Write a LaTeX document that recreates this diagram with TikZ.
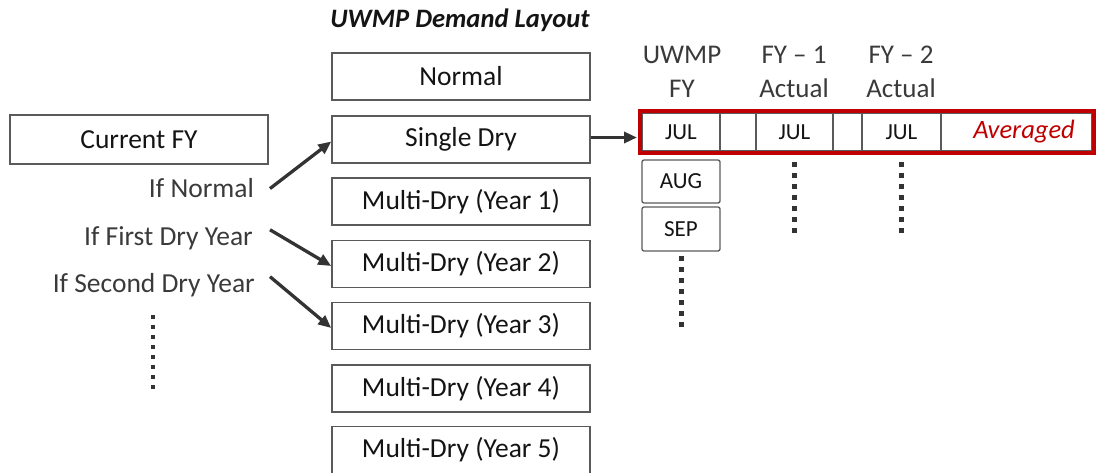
\documentclass[tikz,border=0pt]{standalone}
\usepackage{fontspec}
\setmainfont{Carlito}
\usetikzlibrary{arrows.meta,calc}
\definecolor{boxline}{HTML}{5A5A5A}
\definecolor{boxtext}{HTML}{141414}
\definecolor{labtext}{HTML}{3A3A3A}
\definecolor{arrcol}{HTML}{333333}
\definecolor{redc}{HTML}{C00000}
\tikzset{
  bigbox/.style={draw=boxline, line width=1.5pt, minimum width=258pt, minimum height=47pt, inner sep=0pt,
    font=\fontsize{27.5}{32}\selectfont, text=boxtext},
  cell/.style={draw=boxline, line width=1.3pt, minimum height=38pt, inner sep=0pt,
    font=\fontsize{23}{27}\selectfont, text=boxtext},
  mbox/.style={draw=boxline, line width=1.3pt, minimum width=78pt, inner sep=0pt, rounded corners=2pt,
    font=\fontsize{23}{27}\selectfont, text=boxtext},
  lbl/.style={inner sep=0pt, anchor=base east, font=\fontsize{27.5}{32}\selectfont, text=labtext},
  hdr/.style={inner sep=0pt, align=center, font=\fontsize{27}{34}\selectfont, text=labtext},
  arr/.style={draw=arrcol, line width=3.3pt, -{Triangle[length=13pt,width=11pt]}},
  dots/.style={draw=arrcol, line width=5pt, dash pattern=on 4.5pt off 6.5pt},
  ldots/.style={draw=arrcol, line width=4.5pt, dash pattern=on 4pt off 6pt},
}
\begin{document}
\begin{tikzpicture}[x=1pt,y=-1pt]
\useasboundingbox (0,0) rectangle (1099,472);
% title
\node[inner sep=0pt, font=\fontsize{26.6}{30}\selectfont\bfseries\itshape, text=boxtext] (title) at (460,20) {UWMP Demand Layout};
% left column
\node[bigbox] (normal) at (461,76.5) {Normal};
\node[bigbox] (sd) at (461,139.5) {Single Dry};
\node[bigbox] (y1) at (461,201.5) {Multi-Dry (Year 1)};
\node[bigbox] (y2) at (461,264) {Multi-Dry (Year 2)};
\node[bigbox] (y3) at (461,326) {Multi-Dry (Year 3)};
\node[bigbox] (y4) at (461,388.5) {Multi-Dry (Year 4)};
\node[bigbox] (y5) at (461,450) {Multi-Dry (Year 5)};
% current FY
\node[bigbox, minimum height=49pt] (cur) at (139,139.5) {Current FY};
\node[lbl] (ifn) at (254,197) {If Normal};
\node[lbl] (if1) at (253,245) {If First Dry Year};
\node[lbl] (if2) at (255,292) {If Second Dry Year};
\coordinate (ld1) at (153,315);
\coordinate (ld2) at (153,390);
\draw[ldots] (ld1) -- (ld2);
% arrows
\draw[arr] ([xshift=16pt,yshift=-1pt]ifn.east) -- ([yshift=-2pt]sd.west);
\draw[arr] ([xshift=17pt,yshift=8pt]if1.east) -- ([yshift=-2pt]y2.west);
\draw[arr] ([xshift=15pt,yshift=8pt]if2.east) -- ([yshift=-2pt]y3.west);
% headers
\node[hdr] (h1) at (682,72) {UWMP\\FY};
\node[hdr] (h2) at (794,72) {FY – 1\\Actual};
\node[hdr] (h3) at (901,72) {FY – 2\\Actual};
% cells
\node[cell, minimum width=78pt] (c1) at (681,132) {JUL};
\node[cell, minimum width=36pt] (c2) at (738,132) {};
\node[cell, minimum width=77pt] (c3) at (794.5,132) {JUL};
\node[cell, minimum width=29pt] (c4) at (847.5,132) {};
\node[cell, minimum width=79pt] (c5) at (901.5,132) {JUL};
\node[cell, minimum width=151pt] (avg) at (1016.5,132) {};
\node[inner sep=0pt, font=\fontsize{26.5}{31}\selectfont\itshape, text=redc] (avgt) at (1024,132) {Averaged};
\node[draw=redc, line width=4pt, minimum width=454pt, minimum height=42pt, inner sep=0pt] (red) at (867,132) {};
\draw[arr] ([yshift=2pt]sd.east) -- ([yshift=2pt,xshift=-1pt]sd.east -| red.west);
% month boxes
\node[mbox, minimum height=43pt] (aug) at (681,181.5) {AUG};
\node[mbox, minimum height=44pt] (sep) at (681,229) {SEP};
\coordinate (d1a) at (681,256);
\coordinate (d1b) at (681,331);
\draw[dots] (d1a) -- (d1b);
\coordinate (d2a) at (794,162);
\coordinate (d2b) at (794,236);
\draw[dots] (d2a) -- (d2b);
\coordinate (d3a) at (901,162);
\coordinate (d3b) at (901,236);
\draw[dots] (d3a) -- (d3b);
\end{tikzpicture}
\end{document}
